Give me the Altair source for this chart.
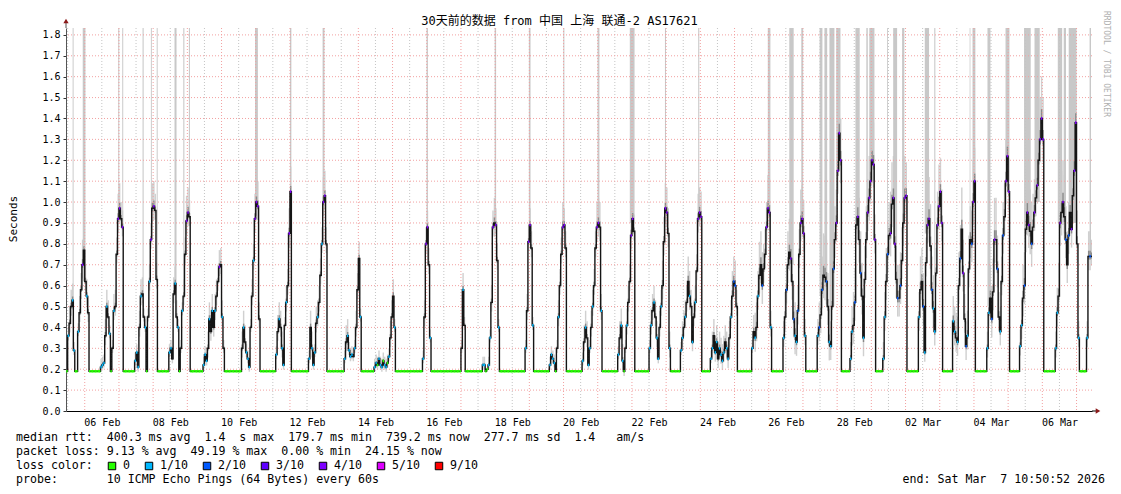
import altair as alt
import pandas as pd

alt.data_transformers.disable_max_rows()

MONO = "DejaVu Sans Mono"
TITLE_FONT = "DejaVu Sans Mono, Noto Sans CJK SC"

START = "2026-02-05 10:50:52"
END = "2026-03-07 10:50:52"
FIRST_DAY = "2026-02-05"
FIRST_HOUR = 11  # the first day's hourly values start at 11:00

# hourly median RTT (seconds), one row per day (Feb 5 .. Mar 7)
median_s = [
    [0.19, 0.36, 0.42, 0.50, 0.53, 0.29, 0.19, 0.19, 0.38, 0.47, 0.58, 0.70, 0.77],
    [0.62, 0.55, 0.47] + [0.19] * 8 + [0.21, 0.22, 0.23, 0.36, 0.50, 0.45, 0.37, 0.19, 0.30, 0.48, 0.50, 0.75, 0.92],
    [0.97, 0.92, 0.88] + [0.19] * 8 + [0.24, 0.28, 0.21, 0.40, 0.55, 0.56, 0.45, 0.40, 0.19, 0.45, 0.62, 0.82, 0.97],
    [0.98, 0.96, 0.63] + [0.19] * 8 + [0.28, 0.30, 0.25, 0.56, 0.61, 0.45, 0.40, 0.19, 0.30, 0.48, 0.55, 0.75, 0.91],
    [0.95, 0.93] + [0.19] * 9 + [0.22, 0.27, 0.24, 0.30, 0.44, 0.38, 0.48, 0.40, 0.48, 0.55, 0.62, 0.69, 0.70],
    [0.45, 0.30] + [0.19] * 12 + [0.30, 0.40, 0.33, 0.28, 0.25, 0.21, 0.40, 0.55, 0.72, 0.92],
    [1.00, 0.98, 0.44] + [0.19] * 11 + [0.27, 0.38, 0.44, 0.40, 0.30, 0.22, 0.41, 0.52, 0.60, 0.85],
    [1.05] + [0.19] * 12 + [0.25, 0.40, 0.30, 0.22, 0.28, 0.42, 0.45, 0.52, 0.65, 0.80, 1.00],
    [1.03, 0.80] + [0.19] * 12 + [0.25, 0.33, 0.36, 0.29, 0.26, 0.27, 0.26, 0.30, 0.40, 0.58],
    [0.73, 0.45] + [0.19] * 9 + [0.21, 0.23, 0.22, 0.25, 0.22, 0.21, 0.24, 0.22, 0.21, 0.23, 0.26, 0.35, 0.45],
    [0.55, 0.40] + [0.19] * 19 + [0.25, 0.45, 0.80],
    [0.88, 0.70, 0.35] + [0.19] * 21,
    [0.30, 0.58, 0.41] + [0.19] * 12 + [0.22, 0.22, 0.19, 0.20, 0.22, 0.35, 0.52, 0.88, 0.90],
    [0.89, 0.72, 0.40] + [0.19] * 18 + [0.30, 0.48, 0.81],
    [0.89, 0.78, 0.41] + [0.19] * 11 + [0.22, 0.27, 0.25, 0.23, 0.19, 0.30, 0.45, 0.60, 0.75, 0.88],
    [0.89, 0.78] + [0.19] * 11 + [0.24, 0.33, 0.40, 0.35, 0.22, 0.30, 0.40, 0.50, 0.60, 0.78, 0.88],
    [0.90, 0.88, 0.48] + [0.19] * 11 + [0.27, 0.35, 0.41, 0.24, 0.19, 0.30, 0.41, 0.52, 0.62, 0.84],
    [0.92, 0.86] + [0.19] * 10 + [0.30, 0.41, 0.48, 0.52, 0.45, 0.35, 0.25, 0.40, 0.50, 0.60, 0.81, 0.97],
    [0.95, 0.85, 0.30] + [0.19] * 7 + [0.29, 0.35, 0.40, 0.45, 0.52, 0.62, 0.55, 0.50, 0.33, 0.45, 0.52, 0.67, 0.92, 0.95],
    [0.93] + [0.19] * 6 + [0.25, 0.30, 0.36, 0.28, 0.33, 0.25, 0.30, 0.27, 0.24, 0.28, 0.33, 0.30, 0.25, 0.35, 0.45, 0.55, 0.62],
    [0.60, 0.50] + [0.19] * 10 + [0.30, 0.38, 0.35, 0.40, 0.55, 0.65, 0.70, 0.60, 0.68, 0.75, 0.88, 0.97],
    [0.95, 0.40] + [0.19] * 8 + [0.35, 0.45, 0.58, 0.70, 0.76, 0.73, 0.62, 0.44, 0.36, 0.33, 0.48, 0.75, 0.90, 0.92],
    [0.85, 0.36] + [0.19] * 8 + [0.36, 0.40, 0.46, 0.58, 0.65, 0.64, 0.62, 0.50, 0.33, 0.31, 0.50, 0.68, 0.82, 0.90],
    [1.15, 1.33, 1.20] + [0.19] * 6 + [0.25, 0.38, 0.41, 0.52, 0.89, 0.93, 0.82, 0.66, 0.55, 0.35, 0.63, 0.82, 0.95, 1.02, 1.10],
    [1.20, 1.18, 0.82] + [0.19] * 5 + [0.25, 0.45, 0.62, 0.75, 0.84, 0.85, 0.99, 1.02, 0.80, 0.63, 0.54, 0.54, 0.60, 0.72, 0.90, 1.02],
    [1.03] + [0.19] * 8 + [0.45, 0.58, 0.62, 0.50, 0.28, 0.71, 0.89, 0.92, 0.79, 0.58, 0.49, 0.38, 0.66, 0.89, 0.98],
    [1.05, 0.90] + [0.19] * 7 + [0.43, 0.38, 0.35, 0.33, 0.60, 0.73, 0.87, 0.66, 0.44, 0.31, 0.36, 0.68, 0.82, 0.80, 1.00],
    [1.10] + [0.19] * 8 + [0.30, 0.47, 0.54, 0.44, 0.57, 0.82, 0.82, 0.68, 0.45, 0.38, 0.62, 0.84, 0.93, 1.10, 1.22],
    [1.05] + [0.19] * 7 + [0.31, 0.41, 0.54, 0.60, 0.87, 0.95, 0.89, 0.86, 0.80, 0.88, 0.95, 1.02, 1.08, 1.20, 1.30, 1.40],
    [1.30] + [0.19] * 8 + [0.30, 0.47, 0.55, 0.90, 0.95, 1.00, 0.93, 0.82, 0.70, 0.84, 0.95, 0.87, 1.03, 1.15, 1.38],
    [0.80, 0.35] + [0.19] * 5 + [0.35, 0.74, 0.74, 0.74],
]

# loss colour seen on the median per hour ("." = no coloured mark, digit = lost pings of 10)
loss_marks = [
    "01..11001..4.",
    ".1." + "0" * 8 + "111.1.10.1..4",
    "4.4" + "0" * 8 + "111.1..10.14.",
    "4.." + "0" * 8 + "11..1.10.1..4",
    "4." + "0" * 9 + "111.1.1.1..4.",
    "1." + "0" * 12 + ".1.111..14",
    "44." + "0" * 11 + "1.1.11.1.4",
    "4" + "0" * 12 + "1.111.1..14",
    "4." + "0" * 12 + "1.1111.1..",
    ".1" + "0" * 9 + "11011101101..",
    ".1" + "0" * 19 + "1.4",
    "4.1" + "0" * 21,
    ".1." + "0" * 12 + "110011.4.",
    "4.1" + "0" * 18 + "1.4",
    "4.1" + "0" * 11 + "11110.1..4",
    "4." + "0" * 11 + "1.1.11.1..4",
    "4.1" + "0" * 11 + "1.110.1..4",
    "4." + "0" * 10 + "11.1.11.1..4",
    "4.1" + "0" * 7 + "11.1..1.1.1.44",
    "4" + "0" * 6 + "11.11.1111.11.1.2",
    "2." + "0" * 10 + "1.1.1..2..44",
    "41" + "0" * 8 + "1.2..4.2112.44",
    "41" + "0" * 8 + "12.2..2.11.2.4",
    "444" + "0" * 6 + "11.2.4.2.1..444",
    "444" + "0" * 5 + "11.2.4.44.2.2..4",
    "4" + "0" * 8 + "1..21.44.211.44",
    "44" + "0" * 7 + "11.1.2.4.21..24",
    "4" + "0" * 8 + "11.2.4.2.1.2.44",
    "4" + "0" * 7 + "11.2.44.2.4.4.44",
    "4" + "0" * 8 + "11.4.4.2.2.4.44",
    ".1" + "0" * 5 + "1.2.",
]

# spread of the ping smoke per hour (0 = none .. 5 = wide)
smoke_levels = [
    "0122210012232",
    "222" + "0" * 8 + "1112221012223",
    "322" + "0" * 8 + "1112221101223",
    "322" + "0" * 8 + "1112221011223",
    "32" + "0" * 9 + "1112222222222",
    "21" + "0" * 12 + "2221111223",
    "332" + "0" * 11 + "1222211223",
    "3" + "0" * 12 + "12211222223",
    "32" + "0" * 12 + "1221111122",
    "21" + "0" * 9 + "1111111111122",
    "21" + "0" * 19 + "122",
    "221" + "0" * 21,
    "121" + "0" * 12 + "110011223",
    "221" + "0" * 18 + "122",
    "221" + "0" * 11 + "1111012223",
    "22" + "0" * 11 + "12221122223",
    "332" + "0" * 11 + "1222112223",
    "32" + "0" * 10 + "122222122333",
    "332" + "0" * 7 + "12222332222233",
    "3" + "0" * 6 + "12222222222222233",
    "32" + "0" * 10 + "123334443334",
    "42" + "0" * 8 + "23344544433344",
    "42" + "0" * 8 + "23445554433444",
    "555" + "0" * 6 + "234445554444455",
    "553" + "0" * 5 + "2344455544444455",
    "4" + "0" * 8 + "344423455443345",
    "44" + "0" * 7 + "333344543334445",
    "4" + "0" * 8 + "234445543334455",
    "4" + "0" * 7 + "2344555554444455",
    "5" + "0" * 8 + "234555544444455",
    "42" + "0" * 5 + "2332",
]

# smoke clipped at the top of the graph: from, to, lowest value of the clipped smoke
clip_from = ["02-05 15:30", "02-05 22:35", "02-06 23:30", "02-07 02:20", "02-07 16:35", "02-07 22:25",
             "02-08 02:30", "02-08 15:00", "02-08 21:10", "02-09 01:05", "02-10 23:30", "02-12 00:00",
             "02-12 22:55", "02-15 23:50", "02-17 23:40", "02-18 23:40", "02-19 23:50", "02-20 23:50",
             "02-21 22:30", "02-22 23:10", "02-23 22:30", "02-25 23:20", "02-26 14:25", "02-26 22:50",
             "02-27 11:40", "02-27 15:05", "02-27 18:35", "02-27 23:20", "02-28 12:50", "02-28 20:30",
             "02-28 22:35", "03-01 11:05", "03-01 15:20", "03-01 21:35", "03-02 13:30", "03-02 20:10",
             "03-03 21:00", "03-03 23:00", "03-04 09:30", "03-04 22:10", "03-05 11:10", "03-05 18:30",
             "03-06 10:50", "03-06 15:00", "03-06 18:30", "03-07 09:10"]
clip_to = ["02-05 16:10", "02-06 00:30", "02-07 00:15", "02-07 03:00", "02-07 17:20", "02-07 23:05",
           "02-08 03:10", "02-08 16:25", "02-08 21:55", "02-09 01:50", "02-11 01:30", "02-12 01:00",
           "02-13 00:15", "02-16 00:50", "02-18 00:40", "02-19 00:50", "02-20 00:35", "02-21 01:10",
           "02-22 01:50", "02-22 23:55", "02-23 23:15", "02-26 01:10", "02-26 17:30", "02-27 00:10",
           "02-27 13:40", "02-27 17:00", "02-27 22:05", "02-28 02:20", "02-28 15:50", "02-28 21:30",
           "03-01 02:10", "03-01 11:40", "03-01 18:05", "03-01 23:10", "03-02 16:30", "03-02 20:55",
           "03-03 21:30", "03-04 01:00", "03-04 11:35", "03-05 00:55", "03-05 15:50", "03-05 22:10",
           "03-06 13:55", "03-06 16:35", "03-07 00:00", "03-07 10:10"]
clip_floor = [0.50, 0.62, 0.95, 0.88, 0.50, 0.80, 0.63, 0.58, 0.55, 0.93, 0.98, 1.05,
              1.00, 0.88, 0.89, 0.89, 0.89, 0.90, 0.90, 0.97, 0.93, 0.95, 0.70, 0.90,
              0.55, 0.62, 0.50, 1.15, 0.85, 0.90, 1.10, 0.75, 0.80, 0.85, 0.85, 0.66,
              0.82, 1.05, 0.50, 1.10, 0.87, 1.00, 0.90, 0.85, 0.90, 0.74]

loss_labels = ["0", "1/10", "2/10", "3/10", "4/10", "5/10", "9/10"]
loss_keys = ["0", "1", "2", "3", "4", "5", "9"]
loss_colors = ["#26ff00", "#00b8ff", "#0059ff", "#5e00ff", "#7e00ff", "#dd00ff", "#ff0000"]

y_ticks = [0.0, 0.1, 0.2, 0.3, 0.4, 0.5, 0.6, 0.7, 0.8, 0.9, 1.0, 1.1, 1.2, 1.3, 1.4, 1.5, 1.6, 1.7, 1.8]
Y_MAX = 1.833

title_text = "30天前的数据 from 中国 上海 联通-2 AS17621"
stats_rtt = "median rtt:  400.3 ms avg  1.4  s max  179.7 ms min  739.2 ms now  277.7 ms sd  1.4   am/s"
stats_loss = "packet loss: 9.13 % avg  49.19 % max  0.00 % min  24.15 % now"
probe_text = "probe:       10 ICMP Echo Pings (64 Bytes) every 60s"
end_text = "end: Sat Mar  7 10:50:52 2026"

# ---------------------------------------------------------------- build tables
HOUR = pd.Timedelta(hours=1)


def ms(ts):
    return int(pd.Timestamp(ts).value // 10**6)


day0 = pd.Timestamp(FIRST_DAY)
recs = []
for d, row in enumerate(median_s):
    h0 = FIRST_HOUR if d == 0 else 0
    lm = loss_marks[d].ljust(len(row), ".")[:len(row)]
    sm = smoke_levels[d].ljust(len(row), "0")[:len(row)]
    for k, v in enumerate(row):
        t = day0 + pd.Timedelta(days=d, hours=h0 + k)
        s = int(sm[k])
        recs.append(dict(t=ms(t), t2=ms(t + HOUR), med=v, loss=lm[k], s=s,
                         olo=v - 0.022 * s, ohi=v + 0.040 * s,
                         ilo=v - 0.005 * s, ihi=v + 0.009 * s))
df = pd.DataFrame(recs)
line_df = pd.concat([df[["t", "med"]],
                     pd.DataFrame({"t": [ms(END)], "med": [df["med"].iloc[-1]]})], ignore_index=True)
smoke_df = df[df.s > 0]
loss_df = df[df.loss != "."]

clip_df = pd.DataFrame({
    "a": [ms("2026-" + s) for s in clip_from],
    "b": [ms("2026-" + s) for s in clip_to],
    "lo": clip_floor,
})

midnights = [ms(t) for t in pd.date_range("2026-02-06", "2026-03-07", freq="D")]
noons = [ms(t) for t in pd.date_range("2026-02-05 12:00", "2026-03-06 12:00", freq="D")]
label_days = [ms(t) for t in pd.date_range("2026-02-06 12:00", "2026-03-06 12:00", freq="2D")]

W, H = 1026, 383
OX, OY = 66, 28  # plot origin on the page

xscale = alt.Scale(type="utc", domain=[ms(START), ms(END)])
yscale = alt.Scale(domain=[0, Y_MAX], nice=False, zero=False)

x_axis = alt.Axis(values=label_days, labelExpr="utcFormat(datum.value, '%d %b')",
                  labelFont=MONO, labelFontSize=10, labelColor="#000",
                  grid=False, ticks=False, domainColor="#000", domainWidth=1,
                  labelPadding=6, title=None, labelOverlap=False, labelFlush=False)
y_axis = alt.Axis(values=y_ticks, format=".1f", labelFont=MONO, labelFontSize=10,
                  labelColor="#000", grid=False, tickSize=3, tickColor="#333",
                  domainColor="#555", labelPadding=3, title=None)


def X(f):
    return alt.X(f, type="temporal", scale=xscale, axis=x_axis)


def Y(f):
    return alt.Y(f, type="quantitative", scale=yscale, axis=y_axis)


smoke_outer = alt.Chart(smoke_df).mark_rect(color="#d0d0d0", clip=True).encode(
    x=X("t"), x2="t2", y=Y("olo"), y2="ohi")
smoke_inner = alt.Chart(smoke_df).mark_rect(color="#8a8a8a", clip=True).encode(
    x=X("t"), x2="t2", y=Y("ilo"), y2="ihi")
clip_bars = alt.Chart(clip_df).mark_rect(color="#c8c8c8", clip=True).encode(
    x=X("a"), x2="b", y=Y("lo"), y2=alt.value(0))

vgrid_minor = alt.Chart(pd.DataFrame({"t": noons})).mark_rule(
    color="#c4c4c4", strokeDash=[1, 2], strokeWidth=1).encode(x=X("t"))
vgrid_major = alt.Chart(pd.DataFrame({"t": midnights})).mark_rule(
    color="#f2a0a0", strokeDash=[1, 2], strokeWidth=1).encode(x=X("t"))
hgrid = alt.Chart(pd.DataFrame({"v": y_ticks[1:]})).mark_rule(
    color="#f2a0a0", strokeDash=[1, 2], strokeWidth=1).encode(y=Y("v"))

median_line = alt.Chart(line_df).mark_line(
    interpolate="step-after", color="#151515", strokeWidth=1.4, clip=True).encode(
    x=X("t"), y=Y("med"))

loss_marks_layer = alt.Chart(loss_df).mark_rule(strokeWidth=2.6, clip=True).encode(
    x=X("t"), x2="t2", y=Y("med"),
    color=alt.Color("loss:N", scale=alt.Scale(domain=loss_keys, range=loss_colors), legend=None),
)

NB = "\u00a0"


def txt(s, px, py, size=11.6, align="left", angle=0, color="#000", font=MONO):
    return alt.Chart(pd.DataFrame({"s": [s.replace(" ", NB)]})).mark_text(
        align=align, baseline="middle", fontSize=size, font=font, angle=angle, color=color
    ).encode(x=alt.value(px - OX), y=alt.value(py - OY), text="s:N")


CW = 7.0  # monospace character width of the legend font
entries = []
cur = 16 + 13 * CW + 1
for lab, col in zip(loss_labels, loss_colors):
    entries.append(dict(lab=lab.replace(" ", NB), col=col, sx=cur + 4 - OX, tx=cur + 15 - OX))
    cur = cur + 15 + CW * len(lab) + 15
leg_df = pd.DataFrame(entries)
leg_sq = alt.Chart(leg_df).mark_square(size=56, stroke="#000", strokeWidth=1, opacity=1).encode(
    x=alt.X("sx:Q", scale=None), y=alt.value(466 - OY),
    fill=alt.Fill("col:N", scale=None))
leg_tx = alt.Chart(leg_df).mark_text(align="left", baseline="middle", font=MONO, fontSize=11.6,
                                     color="#000").encode(
    x=alt.X("tx:Q", scale=None), y=alt.value(466 - OY), text="lab:N")

one = pd.DataFrame({"a": [0]})
y_ext = alt.Chart(one).mark_rule(color="#555").encode(x=alt.value(0), y=alt.value(-6), y2=alt.value(0))
x_ext = alt.Chart(one).mark_rule(color="#000").encode(x=alt.value(W), x2=alt.value(W + 5), y=alt.value(H))
arrow_up = alt.Chart(one).mark_point(shape="triangle-up", filled=True, size=28, color="#8b1a1a",
                                     opacity=1).encode(x=alt.value(0), y=alt.value(-7))
arrow_rt = alt.Chart(one).mark_point(shape="triangle-right", filled=True, size=28, color="#8b1a1a",
                                     opacity=1).encode(x=alt.value(W + 6), y=alt.value(H))

chart = alt.layer(
    smoke_outer, clip_bars, smoke_inner,
    vgrid_minor, vgrid_major, hgrid,
    median_line, loss_marks_layer,
    y_ext, x_ext, arrow_up, arrow_rt,
    txt(title_text, 559.5, 21, size=12, align="center", font=TITLE_FONT),
    txt("Seconds", 14, 219, size=11, align="center", angle=270),
    txt("RRDTOOL / TOBI OETIKER", 1106, 64, size=8, align="center", angle=90, color="#b0b0b0"),
    txt(stats_rtt, 16, 437.5),
    txt(stats_loss, 16, 452),
    txt("loss color:", 16, 466),
    leg_sq, leg_tx,
    txt(probe_text, 16, 480),
    txt(end_text, 1105, 480, align="right"),
).properties(
    width=W, height=H,
    autosize=alt.AutoSizeParams(type="none"),
    padding={"left": OX - 8, "top": OY - 8, "right": 1121 - 16 - (OX - 8) - W, "bottom": 494 - 16 - (OY - 8) - H},
    background="white",
).configure_view(stroke=None)

chart.save("out.html", embed_options={"renderer": "svg", "actions": False})
